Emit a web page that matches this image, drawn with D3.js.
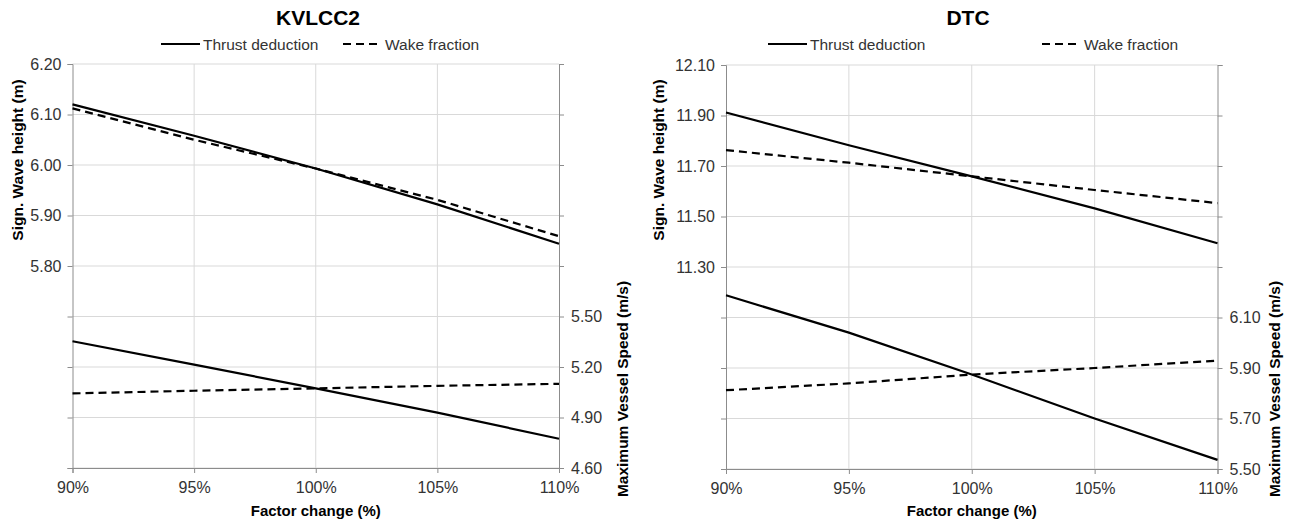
<!DOCTYPE html>
<html>
<head>
<meta charset="utf-8">
<script src="https://cdn.jsdelivr.net/npm/d3@7/dist/d3.min.js"></script>
<style>
  html, body { margin: 0; padding: 0; background: #fff; }
  svg { display: block; }
  text { font-family: "Liberation Sans", Arial, sans-serif; }
</style>
</head>
<body>
<svg id="chart" width="1290" height="522"></svg>
<script>
// ---- data ----
const factors = [90, 95, 100, 105, 110];
const seriesNames = ["Thrust deduction", "Wake fraction"];

const kvTitle = "KVLCC2";
const kvHsThrust = [6.120, 6.058, 5.993, 5.922, 5.844];
const kvHsWake = [6.112, 6.050, 5.993, 5.931, 5.859];
const kvSpeedThrust = [5.353, 5.214, 5.073, 4.929, 4.774];
const kvSpeedWake = [5.043, 5.059, 5.073, 5.088, 5.100];
const kvHsTicks = [6.20, 6.10, 6.00, 5.90, 5.80, 5.70, 5.60, 5.50, 5.40];
const kvHsLabels = ["6.20", "6.10", "6.00", "5.90", "5.80"];
const kvSpeedTicks = [4.60, 4.90, 5.20, 5.50, 5.80, 6.10, 6.40, 6.70, 7.00];
const kvSpeedLabels = ["4.60", "4.90", "5.20", "5.50"];

const dtcTitle = "DTC";
const dtcHsThrust = [11.912, 11.782, 11.659, 11.532, 11.394];
const dtcHsWake = [11.763, 11.713, 11.659, 11.605, 11.553];
const dtcSpeedThrust = [6.188, 6.040, 5.874, 5.700, 5.536];
const dtcSpeedWake = [5.812, 5.839, 5.874, 5.900, 5.929];
const dtcHsTicks = [12.10, 11.90, 11.70, 11.50, 11.30, 11.10, 10.90, 10.70, 10.50];
const dtcHsLabels = ["12.10", "11.90", "11.70", "11.50", "11.30"];
const dtcSpeedTicks = [5.50, 5.70, 5.90, 6.10, 6.30, 6.50, 6.70, 6.90, 7.10];
const dtcSpeedLabels = ["5.50", "5.70", "5.90", "6.10"];

const xTitle = "Factor change (%)";
const yLeftTitle = "Sign. Wave height (m)";
const yRightTitle = "Maximum Vessel Speed (m/s)";

// ---- drawing ----
const svg = d3.select("#chart");
const GRID = "#d9d9d9", AXIS = "#8c8c8c", TXT = "#333";

function drawPanel(p) {
  const g = svg.append("g");
  const x = d3.scaleLinear().domain([90, 110]).range([p.x0, p.x1]);
  const yL = d3.scaleLinear().domain(d3.extent(p.hsTicks)).range([p.y1, p.y0]);
  const yR = d3.scaleLinear().domain(d3.extent(p.spTicks)).range([p.y1, p.y0]);

  // grid
  g.append("g").selectAll("line").data(p.hsTicks).join("line")
    .attr("x1", p.x0).attr("x2", p.x1)
    .attr("y1", d => yL(d)).attr("y2", d => yL(d))
    .attr("stroke", GRID).attr("stroke-width", 1);
  g.append("g").selectAll("line").data(factors.slice(1, -1)).join("line")
    .attr("x1", d => x(d)).attr("x2", d => x(d))
    .attr("y1", p.y0).attr("y2", p.y1)
    .attr("stroke", GRID).attr("stroke-width", 1);

  const style = (sel) => {
    sel.select(".domain").attr("stroke", AXIS).attr("stroke-width", 1);
    sel.selectAll(".tick line").attr("stroke", AXIS);
    sel.selectAll(".tick text").attr("fill", TXT).style("font-size", "16px");
  };

  const axL = d3.axisLeft(yL).tickValues(p.hsTicks).tickSize(5).tickPadding(6)
    .tickFormat((d, i) => p.hsLabels[i] || "");
  g.append("g").attr("transform", `translate(${p.x0},0)`).call(axL).call(style);

  const axR = d3.axisRight(yR).tickValues(p.spTicks).tickSize(5).tickPadding(7)
    .tickFormat((d, i) => p.spLabels[i] || "");
  g.append("g").attr("transform", `translate(${p.x1},0)`).call(axR).call(style);

  const axB = d3.axisBottom(x).tickValues(factors).tickSize(5).tickPadding(9)
    .tickFormat(d => d + "%");
  g.append("g").attr("transform", `translate(0,${p.y1})`).call(axB).call(style);

  g.selectAll(".domain").attr("fill", "none");

  // lines
  const mk = (ys, yScale) => d3.line()
    .x((d, i) => x(factors[i])).y(d => yScale(d))(ys);
  const lines = [
    [p.hsThrust, yL, null], [p.hsWake, yL, "8,5"],
    [p.spThrust, yR, null], [p.spWake, yR, "8,5"]
  ];
  lines.forEach(([ys, sc, dash]) => {
    g.append("path").attr("d", mk(ys, sc)).attr("fill", "none")
      .attr("stroke", "#000").attr("stroke-width", 2.2)
      .attr("stroke-dasharray", dash);
  });

  // title
  g.append("text").attr("x", p.titleX).attr("y", 25).attr("text-anchor", "middle")
    .style("font-size", "21px").style("font-weight", "bold").attr("fill", "#000")
    .text(p.title);

  // legend
  p.legend.forEach((L, i) => {
    g.append("line").attr("x1", L[0]).attr("x2", L[0] + 39)
      .attr("y1", 44).attr("y2", 44).attr("stroke", "#000").attr("stroke-width", 2.2)
      .attr("stroke-dasharray", i === 1 ? "8,5" : null);
    g.append("text").attr("x", L[0] + 42).attr("y", 49.5)
      .style("font-size", "15.5px").attr("fill", TXT).text(seriesNames[i]);
  });

  // axis titles
  g.append("text").attr("x", (p.x0 + p.x1) / 2).attr("y", 516)
    .attr("text-anchor", "middle").style("font-size", "15px").style("font-weight", "bold")
    .attr("fill", "#000").text(xTitle);
  g.append("text").attr("transform", `translate(${p.lTitleX},160) rotate(-90)`)
    .attr("dy", "0.35em").attr("text-anchor", "middle")
    .style("font-size", "15.5px").style("font-weight", "bold").attr("fill", "#000")
    .text(yLeftTitle);
  g.append("text").attr("transform", `translate(${p.rTitleX},389) rotate(-90)`)
    .attr("dy", "0.35em").attr("text-anchor", "middle")
    .style("font-size", "15.5px").style("font-weight", "bold").attr("fill", "#000")
    .text(yRightTitle);
}

drawPanel({
  x0: 72.5, x1: 559, y0: 64, y1: 468,
  title: kvTitle, titleX: 318,
  hsTicks: kvHsTicks, hsLabels: kvHsLabels,
  spTicks: kvSpeedTicks, spLabels: kvSpeedLabels,
  hsThrust: kvHsThrust, hsWake: kvHsWake,
  spThrust: kvSpeedThrust, spWake: kvSpeedWake,
  legend: [[161], [343]],
  lTitleX: 18, rTitleX: 623
});
drawPanel({
  x0: 726, x1: 1217.5, y0: 65, y1: 469,
  title: dtcTitle, titleX: 968,
  hsTicks: dtcHsTicks, hsLabels: dtcHsLabels,
  spTicks: dtcSpeedTicks, spLabels: dtcSpeedLabels,
  hsThrust: dtcHsThrust, hsWake: dtcHsWake,
  spThrust: dtcSpeedThrust, spWake: dtcSpeedWake,
  legend: [[768], [1042]],
  lTitleX: 659, rTitleX: 1275
});
</script>
</body>
</html>
